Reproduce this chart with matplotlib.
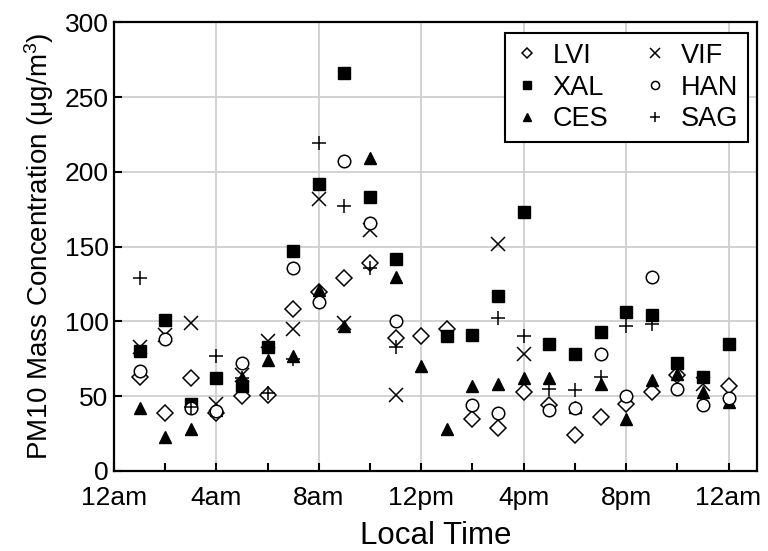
import numpy as np
import matplotlib
matplotlib.use("Agg")
import matplotlib.pyplot as plt
from matplotlib.ticker import MultipleLocator

plt.rcParams['font.family'] = ['Liberation Sans', 'DejaVu Sans']
plt.rcParams['mathtext.fontset'] = 'custom'
plt.rcParams['mathtext.rm'] = 'Liberation Sans'
plt.rcParams['mathtext.default'] = 'regular'

nan = np.nan
hours = list(range(1, 25))

LVI = [63, 39, 62, 39, 50, 51, 108, 120, 129, 139, 89, 90, 95, 35, 29, 53, 44, 24, 36, 45, 53, 64, nan, 57]
XAL = [80, 101, 45, 62, 57, 83, 147, 192, 266, 183, 142, nan, 90, 91, 117, 173, 85, 78, 93, 106, 104, 72, 63, 85]
CES = [42, 23, 28, 41, 62, 74, 77, 121, 97, 209, 130, 70, 28, 57, 58, 62, 62, 43, 58, 35, 61, 65, 53, 46]
VIF = [83, 91, 99, 45, 64, 87, 95, 182, 99, 161, 51, nan, nan, nan, 152, 78, nan, nan, nan, nan, nan, nan, 58, nan]
HAN = [67, 88, 42, 40, 72, nan, 136, 113, 207, 166, 100, nan, nan, 44, 39, nan, 41, 42, 78, 50, 130, 55, 44, 49]
SAG = [129, nan, 43, 77, 62, 52, 75, 219, 177, 136, 83, nan, nan, nan, 102, 90, 55, 54, 63, 97, 98, nan, nan, nan]

tick_pos = [0, 4, 8, 12, 16, 20, 24]
tick_labels = ['12am', '4am', '8am', '12pm', '4pm', '8pm', '12am']

fig = plt.figure(figsize=(7.68, 5.51), dpi=100)
ax = fig.add_axes([0.1484, 0.1452, 0.8369, 0.8143])

ms = 9
ax.plot(hours, LVI, linestyle='none', marker='D', ms=8, mfc='white', mec='black', mew=1.1, label='LVI', zorder=3)
ax.plot(hours, XAL, linestyle='none', marker='s', ms=ms, mfc='black', mec='black', label='XAL', zorder=3)
ax.plot(hours, CES, linestyle='none', marker='^', ms=ms, mfc='black', mec='black', label='CES', zorder=3)
ax.plot(hours, VIF, linestyle='none', marker='x', ms=10, mec='black', mew=1.1, label='VIF', zorder=3)
ax.plot(hours, HAN, linestyle='none', marker='o', ms=ms, mfc='white', mec='black', mew=1.1, label='HAN', zorder=3)
ax.plot(hours, SAG, linestyle='none', marker='+', ms=10, mec='black', mew=1.1, label='SAG', zorder=3)

ax.set_xlim(0, 25.1)
ax.set_ylim(0, 300)
ax.set_xticks(tick_pos)
ax.set_xticklabels(tick_labels)
ax.xaxis.set_minor_locator(MultipleLocator(2))
ax.set_yticks(range(0, 301, 50))

ax.grid(True, which='major', color='#cfcfcf', linewidth=1.3, zorder=0)
ax.set_axisbelow(True)
ax.tick_params(axis='both', which='both', direction='in', labelsize=19, width=1.5, color='black')
ax.tick_params(axis='both', which='major', length=6)
ax.tick_params(axis='x', which='minor', length=6)
ax.tick_params(axis='x', which='major', pad=11)
ax.tick_params(axis='y', which='major', pad=4)
for s in ax.spines.values():
    s.set_linewidth(1.6)

ax.set_xlabel('Local Time', fontsize=22.5, labelpad=8)
ax.set_ylabel('PM10 Mass Concentration (μg/m$^3$)', fontsize=20, labelpad=6)

leg = ax.legend(ncol=2, loc='upper right', fontsize=19.5, frameon=True, fancybox=False,
                edgecolor='black', markerscale=0.65, handlelength=0.9, handletextpad=0.5,
                columnspacing=1.3, borderpad=0.35, labelspacing=0.22, borderaxespad=0,
                bbox_to_anchor=(0.9865, 0.976))
leg.get_frame().set_linewidth(1.5)
leg.get_frame().set_alpha(1)

fig.savefig('out.png', dpi=100)
